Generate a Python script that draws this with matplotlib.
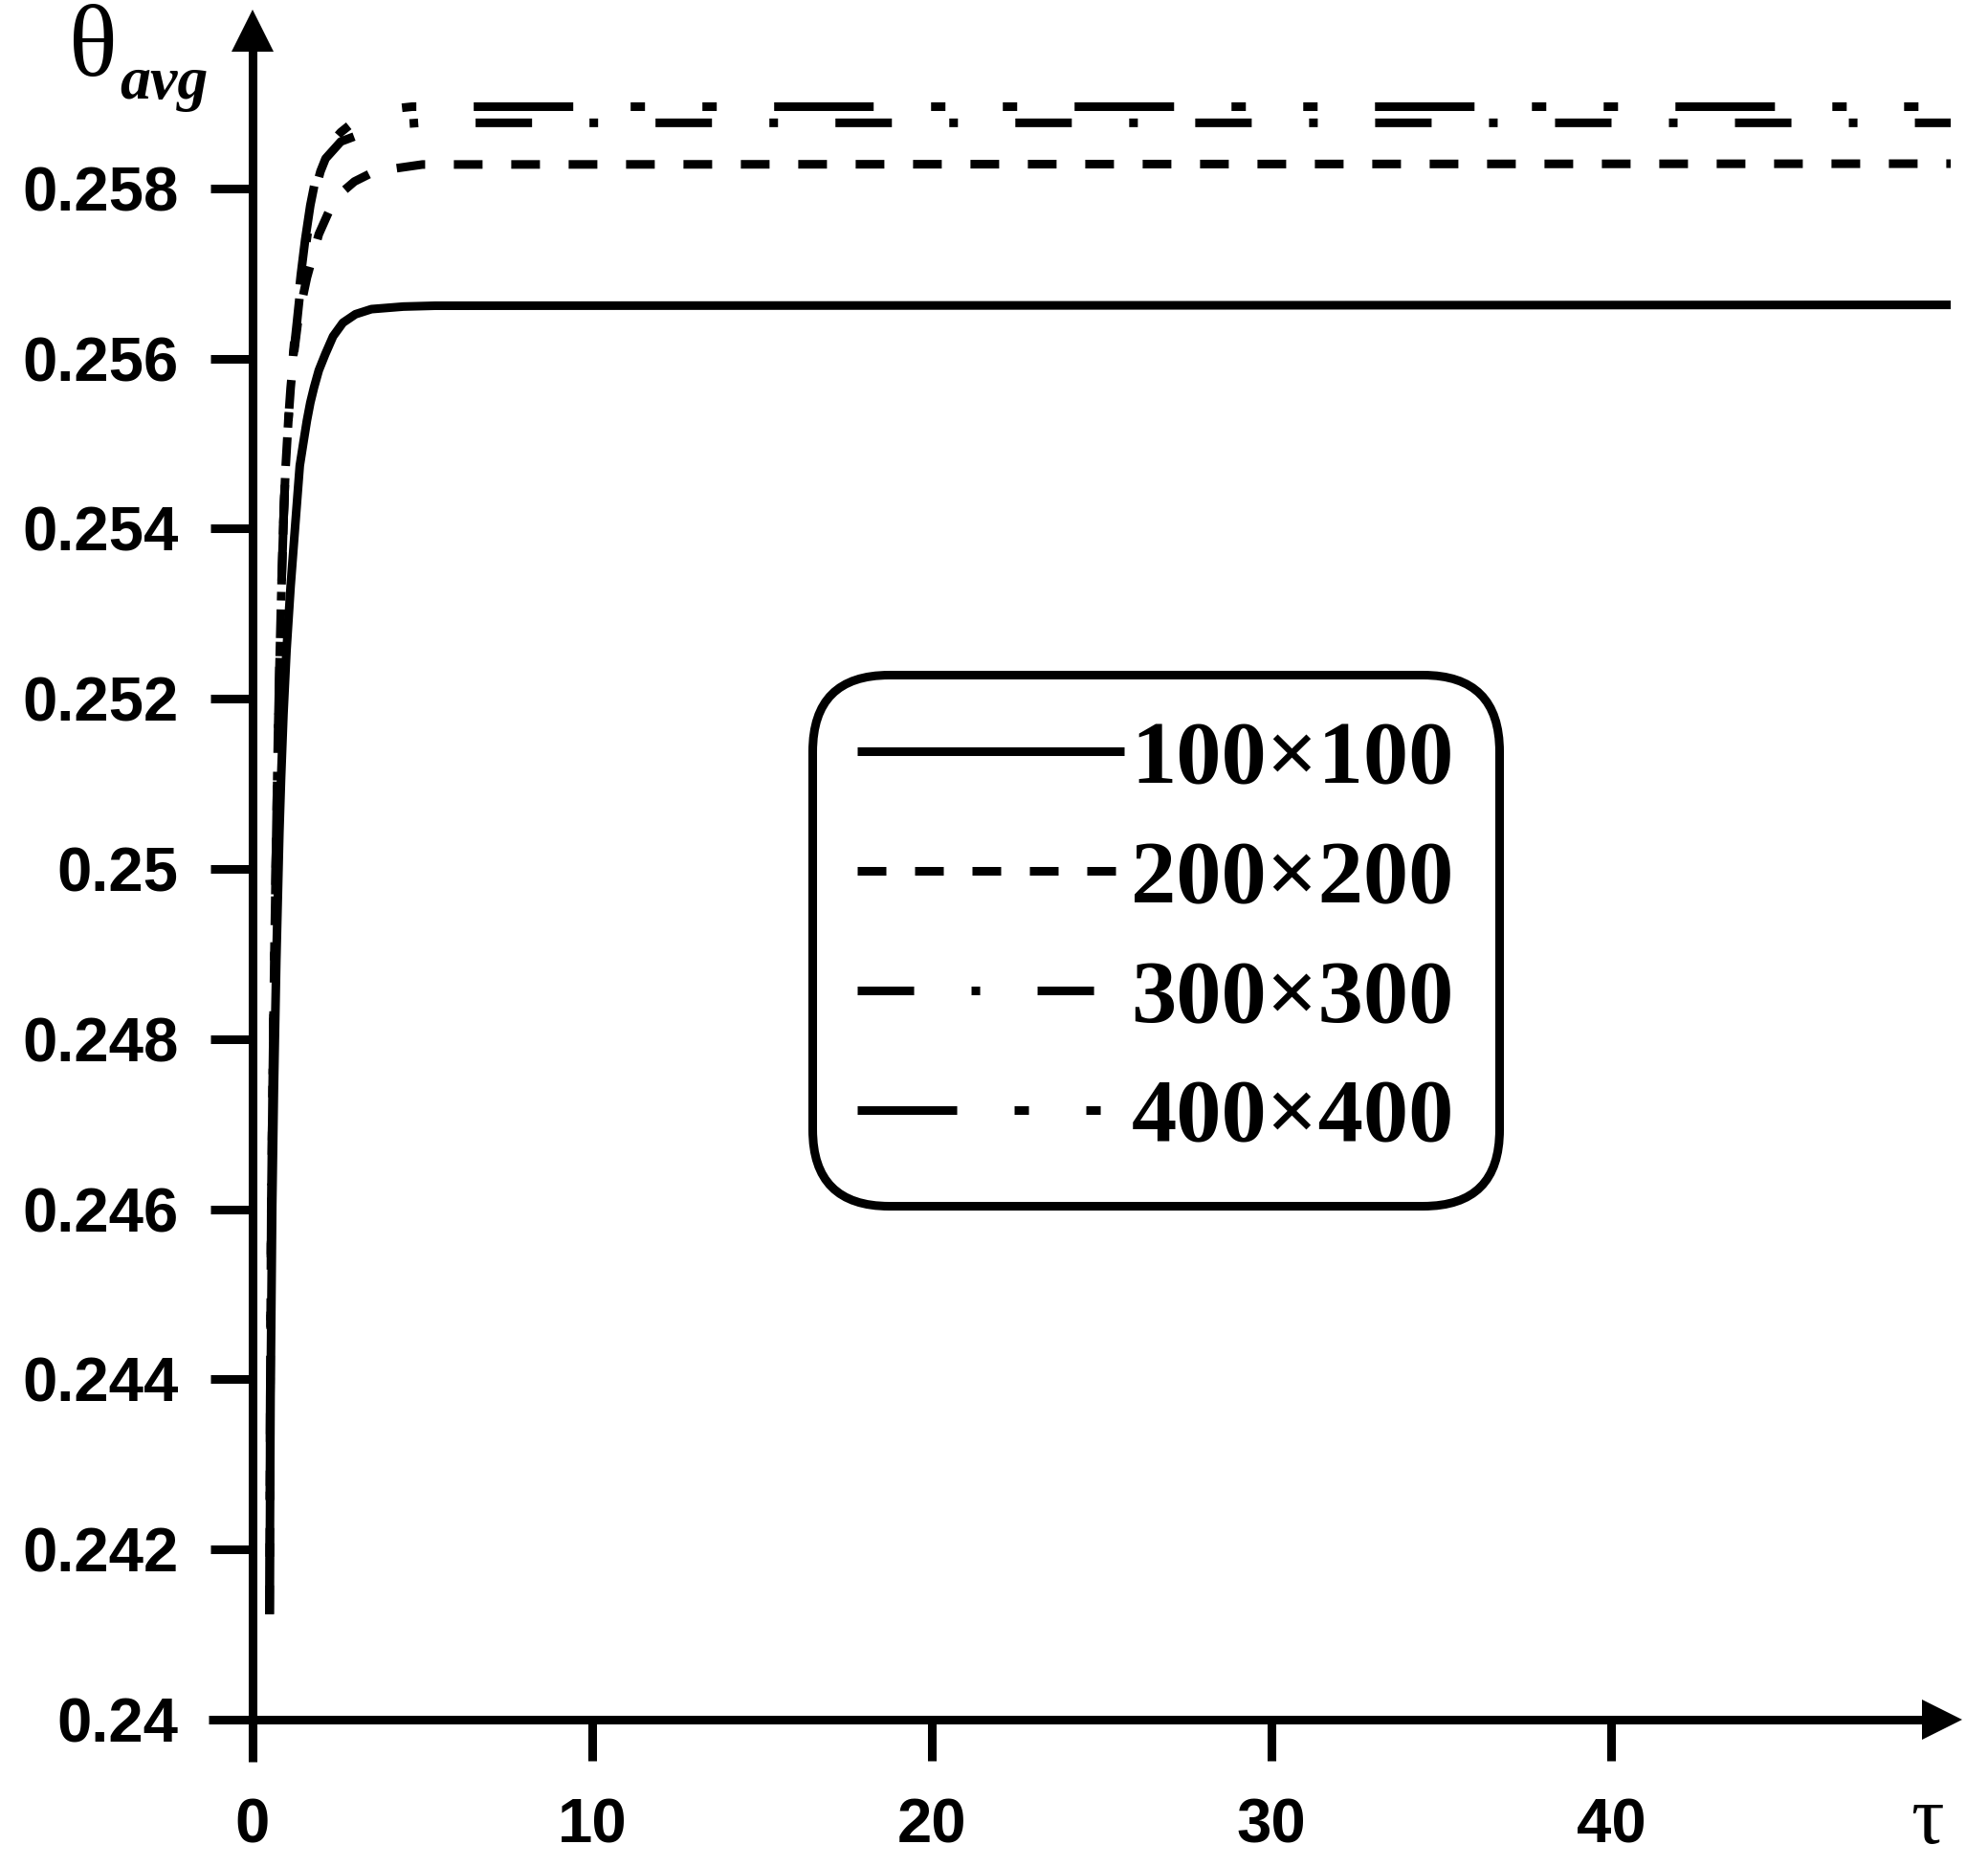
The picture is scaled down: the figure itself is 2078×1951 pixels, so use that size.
import matplotlib
matplotlib.use('Agg')
import matplotlib.pyplot as plt
from matplotlib.font_manager import FontProperties
from matplotlib.lines import Line2D

plt.rcParams['lines.scale_dashes'] = False

# ---------------- data ----------------
tau_100 = [0.50, 0.53, 0.58, 0.63, 0.70, 0.79, 0.84, 0.91, 1.00, 1.12, 1.26, 1.39,
           1.50, 1.60, 1.70, 1.81, 1.95, 2.14, 2.37, 2.66, 3.03, 3.50, 4.44, 5.38, 50.0]
theta_100 = [0.24124, 0.24379, 0.24604, 0.24742, 0.24893, 0.25043, 0.25107, 0.25182,
             0.25257, 0.25332, 0.25406, 0.25474, 0.25502, 0.25527, 0.25548, 0.25566,
             0.25586, 0.25605, 0.25626, 0.25642, 0.25652, 0.25658, 0.25661, 0.25662, 0.25663]

tau_200 = [0.50, 0.52, 0.55, 0.59, 0.64, 0.70, 0.75, 0.80, 0.86, 0.92, 0.97, 1.05, 1.12,
           1.20, 1.35, 1.60, 1.95, 2.25, 2.56, 3.00, 3.60, 5.00, 50.0]
theta_200 = [0.24124, 0.24379, 0.24604, 0.24742, 0.24893, 0.25043, 0.25160, 0.25250,
             0.25345, 0.25420, 0.25470, 0.25525, 0.25565, 0.25600, 0.25648, 0.25695,
             0.25746, 0.25773, 0.25793, 0.25808, 0.25820, 0.25828, 0.25829]

tau_300 = [0.50, 0.52, 0.55, 0.59, 0.64, 0.70, 0.75, 0.80, 0.86, 0.92, 0.97, 1.05, 1.12,
           1.20, 1.30, 1.42, 1.55, 1.70, 1.85, 2.00, 2.15, 2.60, 3.40, 4.20, 4.90, 50.0]
theta_300 = [0.24124, 0.24379, 0.24604, 0.24742, 0.24893, 0.25043, 0.25160, 0.25250,
             0.25345, 0.25420, 0.25470, 0.25525, 0.25565, 0.25603, 0.25640, 0.25686,
             0.25728, 0.25768, 0.25798, 0.25820, 0.25835, 0.25855, 0.25867, 0.25875,
             0.25877, 0.25877]

tau_400 = [0.50, 0.52, 0.55, 0.59, 0.64, 0.70, 0.75, 0.80, 0.86, 0.92, 0.97, 1.05, 1.12,
           1.20, 1.30, 1.42, 1.55, 1.70, 1.85, 2.00, 2.15, 2.60, 3.10, 3.80, 4.70, 50.0]
theta_400 = [0.24124, 0.24379, 0.24604, 0.24742, 0.24893, 0.25043, 0.25160, 0.25250,
             0.25345, 0.25420, 0.25470, 0.25525, 0.25565, 0.25607, 0.25652, 0.25698,
             0.25740, 0.25780, 0.25810, 0.25831, 0.25846, 0.25866, 0.25882, 0.25892,
             0.25896, 0.25896]

series_labels = ['100\u00d7100', '200\u00d7200', '300\u00d7300', '400\u00d7400']
x_ticks = [0, 10, 20, 30, 40]
x_ticklabels = ['0', '10', '20', '30', '40']
y_ticks = [0.24, 0.242, 0.244, 0.246, 0.248, 0.25, 0.252, 0.254, 0.256, 0.258]
y_ticklabels = ['0.24', '0.242', '0.244', '0.246', '0.248', '0.25', '0.252', '0.254',
                '0.256', '0.258']

# ---------------- layout ----------------
W, H, DPI = 2078, 1951, 100
fig = plt.figure(figsize=(W / DPI, H / DPI), dpi=DPI)
fig.patch.set_facecolor('white')

x0_px, px_per_tau = 264.0, 35.5
y0_px, px_per_val = 1797.0, 88900.0
xlim = (-1.3, 50.3)
ylim = (0.2395, 0.2601)
left = (x0_px + xlim[0] * px_per_tau) / W
right = (x0_px + xlim[1] * px_per_tau) / W
bottom = 1 - (y0_px - (ylim[0] - 0.24) * px_per_val) / H
top = 1 - (y0_px - (ylim[1] - 0.24) * px_per_val) / H
ax = fig.add_axes([left, bottom, right - left, top - bottom])
ax.set_xlim(*xlim)
ax.set_ylim(*ylim)
ax.patch.set_alpha(0)

LW = 6.5
ax.spines['right'].set_visible(False)
ax.spines['top'].set_visible(False)
ax.spines['left'].set_position(('data', 0))
ax.spines['bottom'].set_position(('data', 0.24))
ax.spines['left'].set_bounds(0.2395, 0.25965)
ax.spines['bottom'].set_bounds(-1.3, 49.2)
for s in ('left', 'bottom'):
    ax.spines[s].set_linewidth(LW)
    ax.spines[s].set_capstyle('butt')

# arrow heads
ax.plot([49.75], [0.24], marker='>', ms=30, color='k', mew=0, clip_on=False, zorder=5)
ax.plot([0], [0.25985], marker='^', ms=31, color='k', mew=0, clip_on=False, zorder=5)

tick_font = FontProperties(family='Liberation Sans', weight='bold', size=47)
ax.set_xticks(x_ticks)
ax.set_xticklabels(x_ticklabels, fontproperties=tick_font)
ax.set_yticks(y_ticks)
ax.set_yticklabels(y_ticklabels, fontproperties=tick_font)
ax.tick_params(axis='x', direction='out', length=31, width=LW, pad=28)
ax.tick_params(axis='y', direction='out', length=31.7, width=LW, pad=24)

# line styles
ls_100 = '-'
ls_200 = (0, (21.6, 21.6))
ls_300 = (0, (42.5, 43.2, 6.5, 43.2))
ls_400 = (0, (74.9, 43.2, 10.8, 43.2, 10.8, 43.2))

common = dict(color='k', lw=LW, dash_capstyle='butt', solid_capstyle='butt')
ax.plot(tau_100, theta_100, ls=ls_100, **common)
ax.plot(tau_200, theta_200, ls=ls_200, **common)
ax.plot(tau_300, theta_300, ls=ls_300, **common)
ax.plot(tau_400, theta_400, ls=(129.6, ls_400[1]), **common)

# axis labels
fig.text(72 / W, 1 - 79 / H, '\u03b8', fontsize=76, family='Liberation Serif',
         ha='left', va='baseline')
fig.text(125 / W, 1 - 103 / H, 'avg', fontsize=46, family='Liberation Serif',
         style='italic', weight='bold', ha='left', va='baseline')
fig.text(2014 / W, 1 - 1905 / H, '\u03c4', fontsize=62, family='Liberation Serif',
         ha='center', va='center')

# legend (proxy handles so dash patterns start at zero phase)
handles = [Line2D([], [], ls=s, **common) for s in (ls_100, ls_200, ls_300, ls_400)]
leg_font = FontProperties(family='Liberation Serif', weight='bold', size=68)
leg = ax.legend(handles, series_labels, loc='upper left',
                bbox_to_anchor=(849 / W, 1 - 705 / H), bbox_transform=fig.transFigure,
                borderaxespad=0, prop=leg_font, handlelength=2.95, handletextpad=0.08,
                labelspacing=0.41, borderpad=0.5, frameon=True, fancybox=True,
                framealpha=1, edgecolor='k', facecolor='white')
frame = leg.get_frame()
frame.set_linewidth(LW)
frame.set_boxstyle('round', pad=0, rounding_size=0.85)

fig.savefig('out.png', dpi=DPI, facecolor='white')
